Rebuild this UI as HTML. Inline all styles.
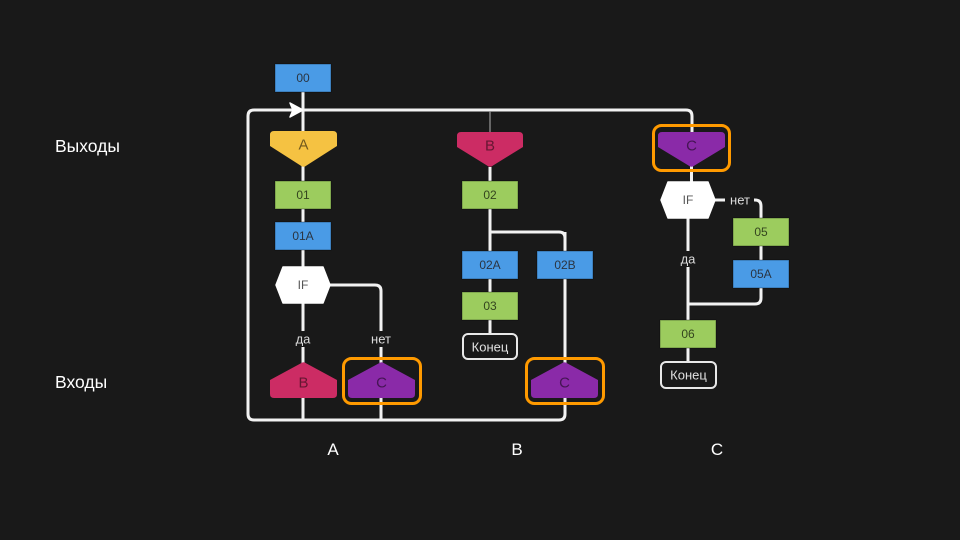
<!DOCTYPE html>
<html><head><meta charset="utf-8"><style>
html,body{margin:0;padding:0;background:#191919;}
svg{display:block;}
text{font-family:"Liberation Sans",Arial,sans-serif;}
</style></head><body>
<svg width="960" height="540" viewBox="0 0 960 540" xmlns="http://www.w3.org/2000/svg">
<rect width="960" height="540" fill="#191919"/>

<!-- side labels -->
<text x="55" y="152" font-size="17.5" fill="#ffffff">Выходы</text>
<text x="55" y="388" font-size="17.5" fill="#ffffff">Входы</text>
<text x="333" y="455" font-size="17" fill="#ffffff" text-anchor="middle">A</text>
<text x="517" y="455" font-size="17" fill="#ffffff" text-anchor="middle">B</text>
<text x="717" y="455" font-size="17" fill="#ffffff" text-anchor="middle">C</text>

<g fill="none" stroke="#f2f2f2" stroke-width="3" stroke-linejoin="round">
  <!-- loop -->
  <path d="M565,232 V414 Q565,420 559,420 H254 Q248,420 248,414 V116 Q248,110 254,110 H686 Q692,110 692,116 V134"/>
  <!-- column A main -->
  <path d="M303,92 V420"/>
  <!-- column A net -->
  <path d="M330,285 H375 Q381,285 381,291 V420"/>
  <!-- column B -->
  <path d="M490,167 V334"/>
  <path d="M490,232 H559 Q565,232 565,238 V260"/>
  <!-- column C -->
  <path d="M691.5,166 V184"/>
  <path d="M688,216 V362"/>
  <path d="M714,200 H755 Q761,200 761,206 V298 Q761,304 755,304 H688"/>
</g>
<!-- thin gray line column B -->
<line x1="490" y1="111" x2="490" y2="133" stroke="#9a9a9a" stroke-width="1.2"/>

<!-- arrow -->
<polygon points="290,103 303,110 290,117 293,110" fill="#ffffff" stroke="#ffffff" stroke-width="1.5" stroke-linejoin="round"/>

<!-- labels on lines -->
<rect x="290" y="331" width="26" height="16" fill="#191919"/>
<text x="303" y="339" font-size="13" fill="#dcdcdc" text-anchor="middle" dominant-baseline="central">да</text>
<rect x="368" y="331" width="26" height="16" fill="#191919"/>
<text x="381" y="339" font-size="13" fill="#dcdcdc" text-anchor="middle" dominant-baseline="central">нет</text>
<rect x="675" y="251" width="26" height="16" fill="#191919"/>
<text x="688" y="259" font-size="13" fill="#dcdcdc" text-anchor="middle" dominant-baseline="central">да</text>
<rect x="725" y="192" width="29" height="16" fill="#191919"/>
<text x="740" y="200" font-size="13" fill="#dcdcdc" text-anchor="middle" dominant-baseline="central">нет</text>

<!-- rect nodes -->
<g stroke="rgba(0,0,0,0.35)" stroke-width="1">
  <rect x="275" y="64" width="56" height="28" fill="#4a9be6"/>
  <rect x="275" y="181" width="56" height="28" fill="#9ccc5e"/>
  <rect x="275" y="222" width="56" height="28" fill="#4a9be6"/>
  <rect x="462" y="181" width="56" height="28" fill="#9ccc5e"/>
  <rect x="462" y="251" width="56" height="28" fill="#4a9be6"/>
  <rect x="537" y="251" width="56" height="28" fill="#4a9be6"/>
  <rect x="462" y="292" width="56" height="28" fill="#9ccc5e"/>
  <rect x="733" y="218" width="56" height="28" fill="#9ccc5e"/>
  <rect x="733" y="260" width="56" height="28" fill="#4a9be6"/>
  <rect x="660" y="320" width="56" height="28" fill="#9ccc5e"/>
</g>
<g font-size="12" fill="#2b3542" text-anchor="middle" dominant-baseline="central">
  <text x="303" y="78">00</text>
  <text x="303" y="195" fill="#34451f">01</text>
  <text x="303" y="236">01A</text>
  <text x="490" y="195" fill="#34451f">02</text>
  <text x="490" y="265">02A</text>
  <text x="565" y="265">02B</text>
  <text x="490" y="306" fill="#34451f">03</text>
  <text x="761" y="232" fill="#34451f">05</text>
  <text x="761" y="274">05A</text>
  <text x="688" y="334" fill="#34451f">06</text>
</g>

<!-- end nodes -->
<rect x="463" y="334" width="54" height="25" rx="5" fill="#191919" stroke="#e8e8e8" stroke-width="2"/>
<text x="490" y="347" font-size="13" fill="#e0e0e0" text-anchor="middle" dominant-baseline="central">Конец</text>
<rect x="661" y="362" width="55" height="26" rx="5" fill="#191919" stroke="#e8e8e8" stroke-width="2"/>
<text x="688.5" y="375" font-size="13" fill="#e0e0e0" text-anchor="middle" dominant-baseline="central">Конец</text>

<!-- IF hexagons -->
<polygon points="276,285 283,267 323,267 330,285 323,303 283,303" fill="#ffffff" stroke="#ffffff" stroke-width="1.5" stroke-linejoin="round"/>
<text x="303" y="285" font-size="12" fill="#555" text-anchor="middle" dominant-baseline="central">IF</text>
<polygon points="661,200 668,182 708,182 715,200 708,218 668,218" fill="#ffffff" stroke="#ffffff" stroke-width="1.5" stroke-linejoin="round"/>
<text x="688" y="200" font-size="12" fill="#555" text-anchor="middle" dominant-baseline="central">IF</text>

<!-- down pentagons (outputs) -->
<path d="M274,131 H333 Q337,131 337,135 V146 L306.5,165.5 Q303.5,168 300.5,165.5 L270,146 V135 Q270,131 274,131 Z" fill="#f5c242"/>
<text x="303.5" y="145" font-size="15" fill="rgba(0,0,0,0.55)" text-anchor="middle" dominant-baseline="central">A</text>
<path d="M461,132 H519 Q523,132 523,136 V147 L493,165.5 Q490,168 487,165.5 L457,147 V136 Q457,132 461,132 Z" fill="#cc2c64"/>
<text x="490" y="146" font-size="15" fill="rgba(0,0,0,0.5)" text-anchor="middle" dominant-baseline="central">B</text>
<path d="M662,132 H721 Q725,132 725,136 V147 L694.5,165.5 Q691.5,168 688.5,165.5 L658,147 V136 Q658,132 662,132 Z" fill="#8a2aa8"/>
<text x="691.5" y="146" font-size="15" fill="rgba(0,0,0,0.5)" text-anchor="middle" dominant-baseline="central">C</text>

<!-- up pentagons (inputs) -->
<path d="M300.5,363.5 Q303.5,361 306.5,363.5 L337,380 V394 Q337,398 333,398 H274 Q270,398 270,394 V380 Z" fill="#cc2c64"/>
<text x="303.5" y="383" font-size="15" fill="rgba(0,0,0,0.5)" text-anchor="middle" dominant-baseline="central">B</text>
<path d="M378.5,363.5 Q381.5,361 384.5,363.5 L415,380 V394 Q415,398 411,398 H352 Q348,398 348,394 V380 Z" fill="#8a2aa8"/>
<text x="381.5" y="383" font-size="15" fill="rgba(0,0,0,0.5)" text-anchor="middle" dominant-baseline="central">C</text>
<path d="M561.5,363.5 Q564.5,361 567.5,363.5 L598,380 V394 Q598,398 594,398 H535 Q531,398 531,394 V380 Z" fill="#8a2aa8"/>
<text x="564.5" y="383" font-size="15" fill="rgba(0,0,0,0.5)" text-anchor="middle" dominant-baseline="central">C</text>

<!-- orange highlight boxes -->
<g fill="none" stroke="#ff9a00" stroke-width="3">
  <rect x="343.5" y="358.5" width="77" height="45" rx="8"/>
  <rect x="526.5" y="358.5" width="77" height="45" rx="8"/>
  <rect x="653.5" y="125.5" width="76" height="45" rx="8"/>
</g>
</svg>
</body></html>
